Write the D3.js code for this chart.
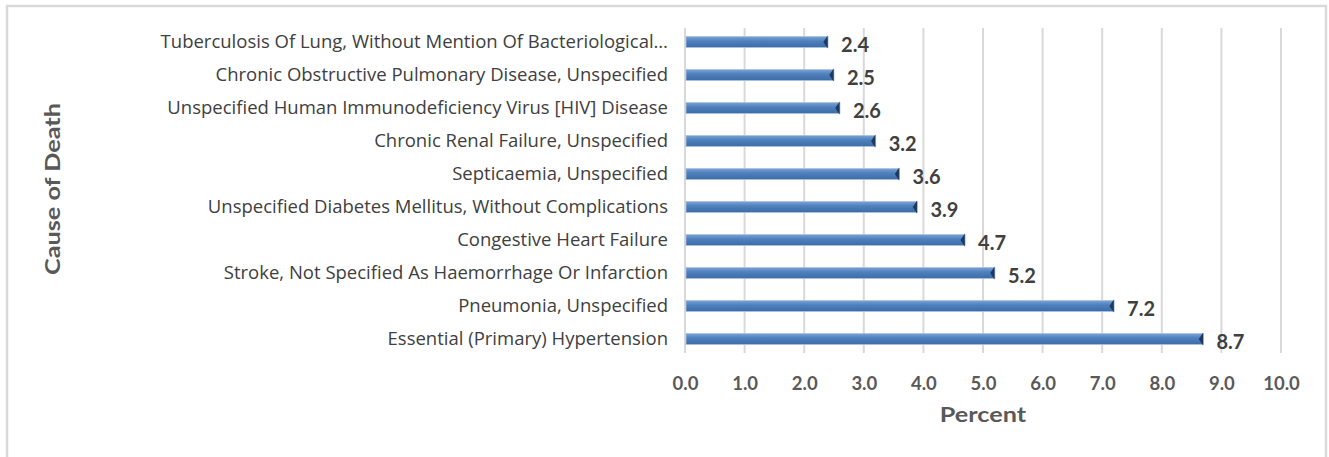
<!DOCTYPE html>
<html>
<head>
<meta charset="utf-8">
<script src="https://cdn.jsdelivr.net/npm/d3@7"></script>
<style>
  body { margin: 0; background: #fff; }
  svg { display: block; }
  .cat { font-family: "Open Sans", sans-serif; font-size: 18.5px; fill: #404040; }
  .val { font-family: "Lato", sans-serif; font-weight: bold; font-size: 20px; fill: #404040; }
  .tick text { font-family: "Lato", sans-serif; font-weight: bold; font-size: 18.5px; fill: #595959; }
  .ttl { font-family: "Lato", sans-serif; font-weight: bold; font-size: 21px; fill: #595959; }
</style>
</head>
<body>
<div id="wrapper"></div>
<script>
// data, top to bottom as in the chart
let causes = [
    "Tuberculosis Of Lung, Without Mention Of Bacteriological\u2026",
    "Chronic Obstructive Pulmonary Disease, Unspecified",
    "Unspecified Human Immunodeficiency Virus [HIV] Disease",
    "Chronic Renal Failure, Unspecified",
    "Septicaemia, Unspecified",
    "Unspecified Diabetes Mellitus, Without Complications",
    "Congestive Heart Failure",
    "Stroke, Not Specified As Haemorrhage Or Infarction",
    "Pneumonia, Unspecified",
    "Essential (Primary) Hypertension"
];
let percents = [2.4, 2.5, 2.6, 3.2, 3.6, 3.9, 4.7, 5.2, 7.2, 8.7];
let xTicks = [0, 1, 2, 3, 4, 5, 6, 7, 8, 9, 10];

let wSvg = 1329;
let hSvg = 457;

let svg = d3.select("#wrapper")
    .append("svg")
    .attr("width", wSvg)
    .attr("height", hSvg);

// chart frame (bottom edge falls outside the picture)
svg.append("rect")
    .attr("x", 7).attr("y", 6)
    .attr("width", 1319).attr("height", 470)
    .attr("fill", "none")
    .attr("stroke", "#d9d9d9")
    .attr("stroke-width", 2.5);

let xScale = d3.scaleLinear().domain([0, 10]).range([685, 1281]);
let yScale = d3.scaleBand().domain(causes).range([25, 356]).paddingInner(0.67).paddingOuter(0.35);

let grad = svg.append("defs").append("linearGradient")
    .attr("id", "barGrad").attr("x1", 0).attr("y1", 0).attr("x2", 0).attr("y2", 1);
grad.append("stop").attr("offset", "0%").attr("stop-color", "#7aa3d6");
grad.append("stop").attr("offset", "40%").attr("stop-color", "#4f81bd");
grad.append("stop").attr("offset", "100%").attr("stop-color", "#3d6ca8");

// gridlines
svg.append("g")
    .selectAll("line")
    .data(xTicks)
    .join("line")
    .attr("x1", d => xScale(d)).attr("x2", d => xScale(d))
    .attr("y1", 28).attr("y2", 353)
    .attr("stroke", "#d9d9d9")
    .attr("stroke-width", 2);

// x axis
let xAxis = svg.append("g")
    .attr("transform", "translate(0,370)")
    .call(d3.axisBottom(xScale).tickValues(xTicks).tickFormat(d3.format(".1f")).tickSize(0));
xAxis.select(".domain").remove();
xAxis.selectAll("text").attr("dy", "0.9em");

// bars
let bars = svg.append("g")
    .selectAll("g")
    .data(percents)
    .join("g");

bars.append("rect")
    .attr("x", xScale(0) + 1)
    .attr("y", (d, i) => yScale(causes[i]))
    .attr("width", d => xScale(d) - xScale(0) - 1)
    .attr("height", yScale.bandwidth())
    .attr("fill", "url(#barGrad)")
    .attr("stroke", "#a9c0df")
    .attr("stroke-width", 0.8);

// dark tip at the bar end
bars.append("path")
    .attr("d", (d, i) => {
        let x = xScale(d), y0 = yScale(causes[i]) + 1, y1 = y0 + yScale.bandwidth() - 2;
        return `M${x - 1},${y0} L${x - 4},${(y0 + y1) / 2} L${x - 1},${y1} Z`;
    })
    .attr("fill", "#1f3a5f")
    .attr("stroke", "#1f3a5f")
    .attr("stroke-width", 1.2);

bars.append("text")
    .attr("class", "val")
    .attr("x", d => xScale(d) + 13)
    .attr("y", (d, i) => yScale(causes[i]) + yScale.bandwidth() / 2 + 3)
    .attr("dy", "0.35em")
    .text(d => d.toFixed(1));

// category labels
svg.append("g")
    .selectAll("text")
    .data(causes)
    .join("text")
    .attr("class", "cat")
    .attr("x", 668)
    .attr("y", d => yScale(d) + yScale.bandwidth() / 2)
    .attr("dy", "0.35em")
    .attr("text-anchor", "end")
    .text(d => d);

// axis titles
svg.append("text")
    .attr("class", "ttl")
    .attr("transform", "translate(983,422) scale(1.2,1)")
    .attr("text-anchor", "middle")
    .text("Percent");

svg.append("text")
    .attr("class", "ttl")
    .attr("transform", "translate(60,189) rotate(-90) scale(1.2,1)")
    .attr("text-anchor", "middle")
    .text("Cause of Death");
</script>
</body>
</html>
